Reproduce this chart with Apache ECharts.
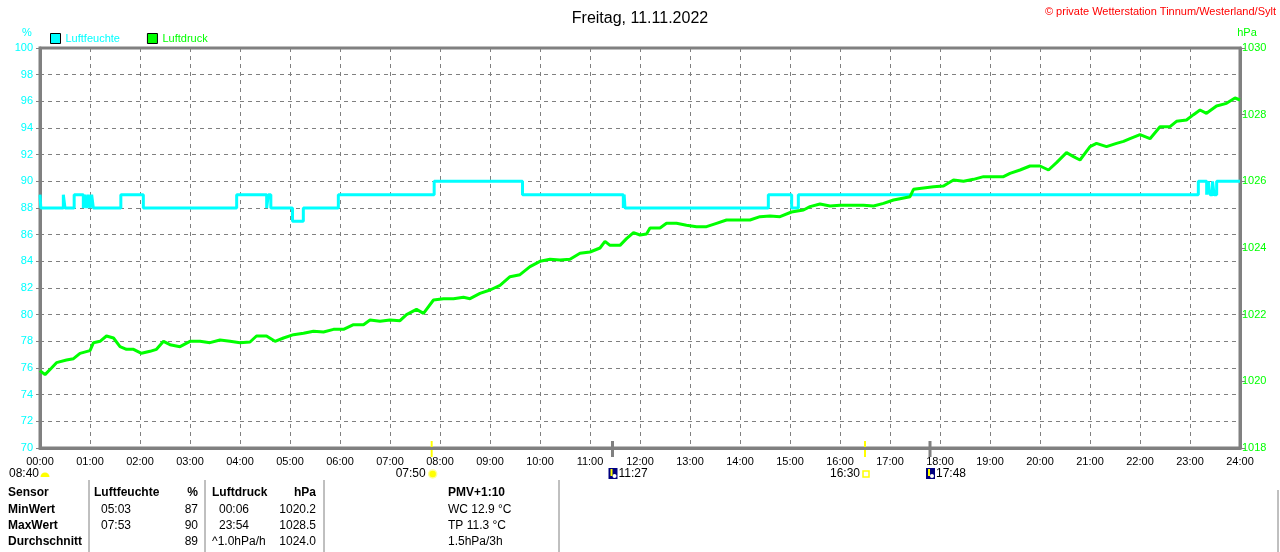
<!doctype html>
<html>
<head>
<meta charset="utf-8">
<title>Freitag, 11.11.2022</title>
<script src="https://cdn.jsdelivr.net/npm/echarts@6/dist/echarts.min.js"></script>
<style>
  html, body { margin: 0; padding: 0; background: #fff; }
  #main { width: 1280px; height: 552px; }
</style>
</head>
<body>
<div id="main"></div>
<script>
// Luftfeuchte (%) - Stufenwerte, Zeitpunkt der Änderung
var humTimes = ['00:00','00:01','00:28','00:30','00:41','00:52','00:54','00:56','00:58','01:00','01:02','01:04',
  '01:37','02:04','03:56','04:32','04:34','04:37','05:03','05:16','05:58','07:53','09:39','11:40','11:41','11:42',
  '14:34','15:02','15:10','23:10','23:20','23:22','23:24','23:27','23:29','23:32','24:00'];
var humValues = [89,88,89,88,89,88,89,88,89,88,89,88,
  89,88,89,88,89,88,87,88,89,90,89,88,89,88,
  89,88,89,90,89,90,89,90,89,90,90];

// Luftdruck (hPa)
var pressHours = [0.0,0.1,0.23,0.33,0.53,0.67,0.8,1.0,1.07,1.2,1.33,1.47,1.6,1.73,1.87,2.03,2.2,2.33,2.47,2.6,2.8,
  3.0,3.2,3.4,3.6,3.8,4.0,4.2,4.33,4.53,4.7,4.87,5.07,5.27,5.47,5.67,5.87,6.07,6.27,6.47,6.6,6.8,7.0,7.2,7.33,
  7.53,7.67,7.87,8.07,8.27,8.47,8.6,8.8,9.0,9.2,9.4,9.6,9.8,10.0,10.2,10.4,10.6,10.8,11.0,11.2,11.3,11.4,11.6,
  11.73,11.87,12.0,12.13,12.2,12.4,12.53,12.73,12.93,13.13,13.33,13.53,13.73,13.93,14.2,14.4,14.6,14.8,15.03,
  15.27,15.4,15.6,15.8,16.0,16.2,16.47,16.67,16.87,17.07,17.2,17.4,17.47,17.67,17.87,18.07,18.27,18.47,18.67,
  18.87,19.07,19.27,19.4,19.6,19.8,20.0,20.17,20.33,20.53,20.67,20.8,21.0,21.13,21.33,21.53,21.67,21.8,22.0,
  22.2,22.4,22.6,22.73,22.93,23.07,23.2,23.33,23.53,23.73,23.9,24.0];
var pressValues = [1020.32,1020.2,1020.4,1020.56,1020.64,1020.68,1020.84,1020.92,1021.16,1021.2,1021.36,1021.3,
  1021.04,1020.96,1020.96,1020.84,1020.9,1020.96,1021.2,1021.1,1021.04,1021.2,1021.2,1021.16,1021.24,1021.2,
  1021.16,1021.18,1021.36,1021.36,1021.2,1021.3,1021.4,1021.44,1021.5,1021.48,1021.56,1021.56,1021.7,1021.7,
  1021.84,1021.8,1021.84,1021.82,1022.0,1022.16,1022.04,1022.44,1022.48,1022.48,1022.52,1022.48,1022.64,
  1022.74,1022.88,1023.14,1023.2,1023.44,1023.6,1023.66,1023.64,1023.66,1023.84,1023.88,1024.0,1024.2,1024.08,
  1024.08,1024.28,1024.46,1024.39,1024.42,1024.6,1024.6,1024.74,1024.74,1024.68,1024.64,1024.64,1024.74,
  1024.84,1024.84,1024.84,1024.94,1024.96,1024.94,1025.08,1025.14,1025.24,1025.32,1025.26,1025.28,1025.28,
  1025.28,1025.26,1025.34,1025.44,1025.48,1025.54,1025.76,1025.8,1025.84,1025.86,1026.04,1026.0,1026.06,
  1026.14,1026.14,1026.14,1026.24,1026.34,1026.46,1026.46,1026.34,1026.56,1026.86,1026.74,1026.64,1027.04,
  1027.14,1027.04,1027.14,1027.2,1027.28,1027.4,1027.28,1027.64,1027.64,1027.8,1027.84,1028.0,1028.14,
  1028.04,1028.26,1028.34,1028.5,1028.44];

// Sonne / Mond Ereignisse unter der Zeitachse
var eventTimes = ['07:50','11:27','16:30','17:48'];
var eventKinds = ['sunrise','moon','sunset','moon'];

// Tabelle
var tableRows = [
  ['Sensor', 'Luftfeuchte', '%', 'Luftdruck', 'hPa', 'PMV+1:10'],
  ['MinWert', '05:03', '87', '00:06', '1020.2', 'WC 12.9 °C'],
  ['MaxWert', '07:53', '90', '23:54', '1028.5', 'TP 11.3 °C'],
  ['Durchschnitt', '', '89', '^1.0hPa/h', '1024.0', '1.5hPa/3h']
];

function toMin(t) {
  var p = t.split(':');
  return parseInt(p[0], 10) * 60 + parseInt(p[1], 10);
}
function pad(n) { return (n < 10 ? '0' : '') + n; }

var humData = humTimes.map(function (t, i) { return [toMin(t), humValues[i]]; });
var pressData = pressHours.map(function (h, i) { return [h * 60, pressValues[i]]; });

var FONT = 'Liberation Sans';
var GREY = '#808080';
var CYAN = '#00ffff';
var GREEN = '#00ff00';

var chart = echarts.init(document.getElementById('main'));
var option = {
  backgroundColor: '#ffffff',
  animation: false,
  textStyle: { fontFamily: FONT },
  title: {
    text: 'Freitag, 11.11.2022',
    left: 'center',
    top: 6,
    textStyle: { fontSize: 16, fontWeight: 'normal', color: '#000', fontFamily: FONT }
  },
  legend: {
    left: 50,
    top: 33,
    padding: 0,
    itemWidth: 10,
    itemHeight: 10,
    itemGap: 27,
    icon: 'rect',
    data: [
      { name: 'Luftfeuchte', textStyle: { color: CYAN } },
      { name: 'Luftdruck', textStyle: { color: GREEN } }
    ],
    itemStyle: { borderColor: '#000', borderWidth: 1 },
    textStyle: { fontSize: 11, fontFamily: FONT }
  },
  grid: { left: 40, right: 40, top: 48, bottom: 104, show: true, borderColor: GREY, borderWidth: 3 },
  xAxis: {
    type: 'value',
    min: 0,
    max: 1440,
    interval: 60,
    axisLine: { show: true, lineStyle: { color: GREY, width: 3 } },
    axisTick: { show: false },
    axisLabel: {
      color: '#000', fontSize: 11, margin: 8, fontFamily: FONT,
      formatter: function (v) { return pad(Math.round(v / 60)) + ':00'; }
    },
    splitLine: { show: true, lineStyle: { color: GREY, type: [4, 4], width: 1 } }
  },
  yAxis: [
    {
      type: 'value',
      name: '%',
      nameLocation: 'end',
      nameGap: 10,
      nameTextStyle: { color: CYAN, fontSize: 11, align: 'center', padding: [0, 26, 0, 0] },
      min: 70,
      max: 100,
      interval: 2,
      axisLine: { show: true, lineStyle: { color: GREY, width: 3 } },
      axisTick: { show: true, length: 4, lineStyle: { color: GREY } },
      axisLabel: { color: CYAN, fontSize: 11, margin: 7, fontFamily: FONT },
      splitLine: { show: true, lineStyle: { color: GREY, type: [4, 4], width: 1 } }
    },
    {
      type: 'value',
      name: 'hPa',
      nameLocation: 'end',
      nameGap: 10,
      nameTextStyle: { color: GREEN, fontSize: 11, padding: [0, 0, 0, 14] },
      min: 1018,
      max: 1030,
      interval: 2,
      position: 'right',
      axisLine: { show: true, lineStyle: { color: GREY, width: 3 } },
      axisTick: { show: true, length: 5, lineStyle: { color: GREY } },
      axisLabel: { color: GREEN, fontSize: 11, margin: 2, fontFamily: FONT,
        formatter: function (v) { return String(v); } },
      splitLine: { show: false }
    }
  ],
  series: [
    {
      name: 'Luftfeuchte',
      type: 'line',
      yAxisIndex: 0,
      step: 'end',
      data: humData,
      showSymbol: false,
      itemStyle: { color: CYAN },
      lineStyle: { color: CYAN, width: 3 },
      z: 3
    },
    {
      name: 'Luftdruck',
      type: 'line',
      yAxisIndex: 1,
      data: pressData,
      showSymbol: false,
      itemStyle: { color: GREEN },
      lineStyle: { color: GREEN, width: 3 },
      z: 4
    }
  ]
};
chart.setOption(option);

// Zusatzgrafik: Copyright, Sonne/Mond, Tabelle
var g = [];
g.push({
  type: 'text', right: 4, top: 6,
  style: { text: '© private Wetterstation Tinnum/Westerland/Sylt', fill: '#ff0000', font: '11px ' + FONT }
});

// 08:40 links (Vortag)
g.push({ type: 'text', left: 9, top: 468, style: { text: '08:40', fill: '#000', font: '12px ' + FONT } });
g.push({ type: 'sector', shape: { cx: 45, cy: 477, r0: 0, r: 4.5, startAngle: Math.PI, endAngle: Math.PI * 2 }, style: { fill: '#ffff00' } });

eventTimes.forEach(function (t, i) {
  var x = chart.convertToPixel({ xAxisIndex: 0 }, toMin(t));
  var kind = eventKinds[i];
  var isSun = kind !== 'moon';
  g.push({
    type: 'line', shape: { x1: x, y1: 441, x2: x, y2: 457 },
    style: { stroke: isSun ? '#ffff00' : GREY, lineWidth: isSun ? 2 : 3 }
  });
  if (kind === 'sunrise') {
    g.push({ type: 'circle', shape: { cx: x + 1, cy: 474, r: 4 }, style: { fill: '#ffff00', stroke: '#ffff99', lineWidth: 1.5 } });
    g.push({ type: 'text', left: x - 36, top: 468, style: { text: t, fill: '#000', font: '12px ' + FONT } });
  } else if (kind === 'sunset') {
    g.push({ type: 'rect', shape: { x: x - 2, y: 471, width: 6, height: 6 }, style: { fill: '#fff', stroke: '#ffff00', lineWidth: 1.5 } });
    g.push({ type: 'text', left: x - 35, top: 468, style: { text: t, fill: '#000', font: '12px ' + FONT } });
  } else {
    g.push({ type: 'rect', shape: { x: x - 4, y: 468, width: 9, height: 11 }, style: { fill: '#000080' } });
    g.push({ type: 'circle', shape: { cx: x + 2, cy: 476, r: 2 }, style: { fill: '#ffffff' } });
    g.push({ type: 'line', shape: { x1: x - 1, y1: 469, x2: x - 1, y2: 476 }, style: { stroke: '#ffff00', lineWidth: 2 } });
    g.push({ type: 'text', left: x + 6, top: 468, style: { text: t, fill: '#000', font: '12px ' + FONT } });
  }
});

// Tabellenlinien
[89, 205, 324, 559].forEach(function (x) {
  g.push({ type: 'line', shape: { x1: x, y1: 480, x2: x, y2: 552 }, style: { stroke: GREY, lineWidth: 1 } });
});
g.push({ type: 'line', shape: { x1: 1278, y1: 490, x2: 1278, y2: 552 }, style: { stroke: GREY, lineWidth: 1 } });

var colX = [8, 101, 198, 219, 316, 448];
var colAlign = ['left', 'left', 'right', 'left', 'right', 'left'];
tableRows.forEach(function (row, r) {
  var y = 493 + r * 16.3;
  row.forEach(function (txt, c) {
    var bold = r === 0 || c === 0;
    var x = colX[c];
    if (r === 0 && c === 1) x = 94;
    if (r === 0 && c === 3) x = 212;
    if (r === 3 && c === 3) x = 212;
    g.push({
      type: 'text', x: x, y: y,
      style: {
        text: txt, fill: '#000', textAlign: colAlign[c], textVerticalAlign: 'middle',
        font: (bold ? 'bold ' : '') + '12px ' + FONT
      }
    });
  });
});

chart.setOption({ graphic: g });
</script>
</body>
</html>
